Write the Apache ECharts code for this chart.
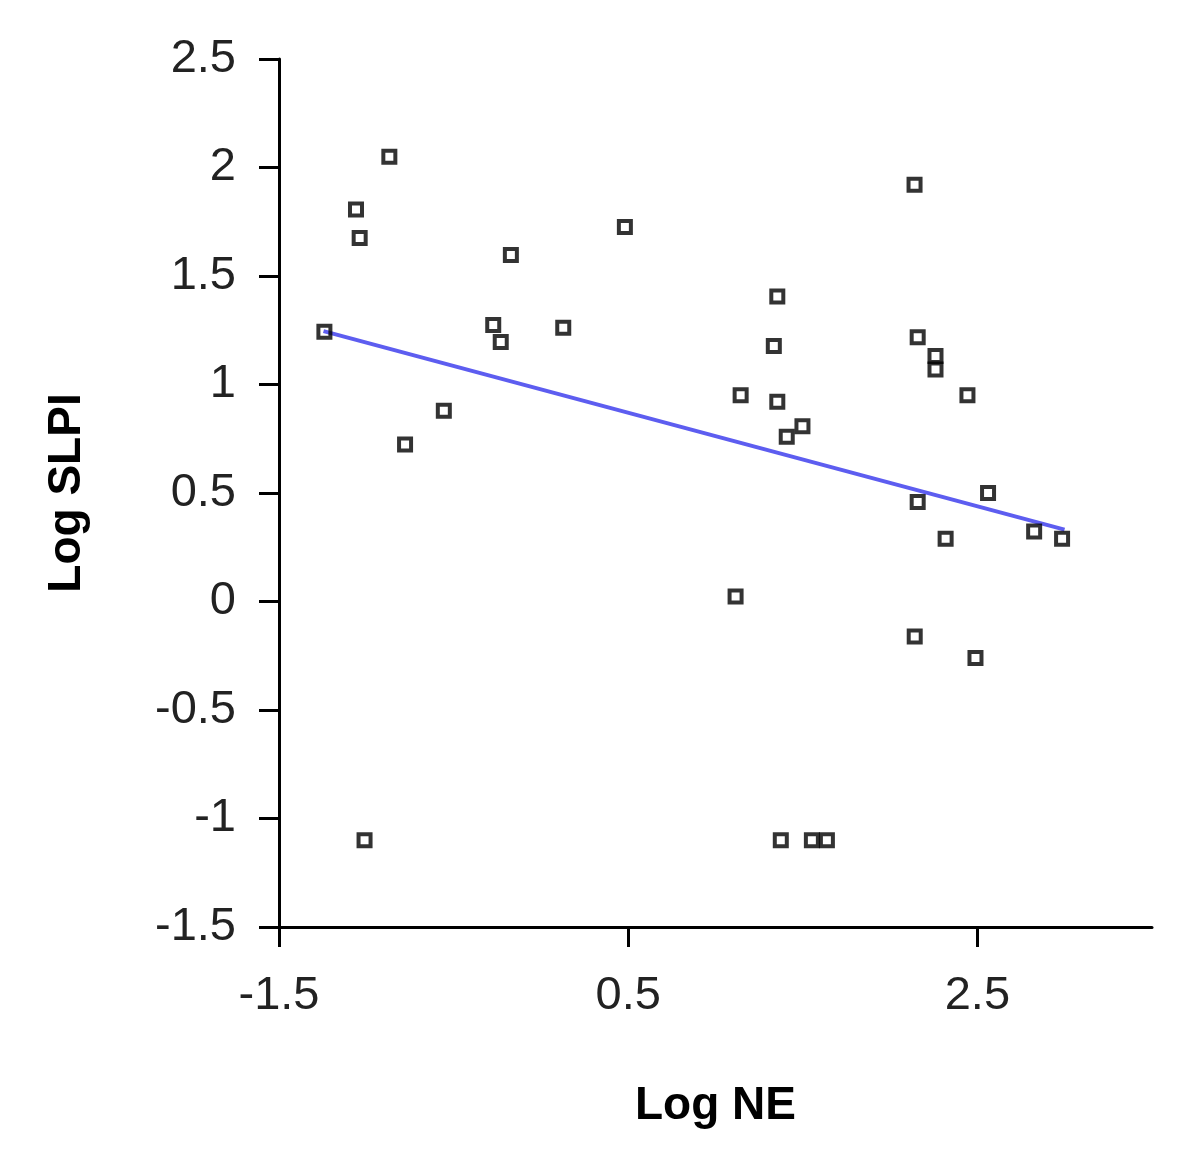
<!DOCTYPE html>
<html>
<head>
<meta charset="utf-8">
<script src="https://cdn.jsdelivr.net/npm/echarts@6/dist/echarts.min.js"></script>
<style>
html,body{margin:0;padding:0;background:#fff;}
#chart{width:1200px;height:1175px;}
</style>
</head>
<body>
<div id="chart"></div>
<script>
// Data
var logNE = [-1.24, -1.059, -1.038, -0.868, -0.778, -0.556, -0.273, -0.230, -0.172, 0.128,
             -1.010, 0.481, 2.140, 1.354, 1.334, 1.144, 1.354, 1.408, 1.498, 2.158,
             2.260, 2.260, 2.443, 2.561, 2.158, 2.318, 2.825, 2.985, 1.115, 2.141,
             2.489, 1.374, 1.552, 1.638];
var logSLPI = [1.243, 1.806, 1.675, 2.049, 0.723, 0.879, 1.274, 1.196, 1.597, 1.262,
               -1.100, 1.726, 1.920, 1.405, 1.177, 0.951, 0.920, 0.759, 0.808, 1.218,
               1.131, 1.069, 0.951, 0.500, 0.459, 0.289, 0.323, 0.289, 0.023, -0.161,
               -0.26, -1.100, -1.100, -1.100];
// Fitted line end points
var fitX = [-1.245, 2.999];
var fitY = [1.246, 0.331];
var xTicks = [-1.5, 0.5, 2.5];
var yTicks = [-1.5, -1, -0.5, 0, 0.5, 1, 1.5, 2, 2.5];

var points = logNE.map(function (x, i) { return [x, logSLPI[i]]; });
var fitLine = fitX.map(function (x, i) { return [x, fitY[i]]; });

var FONT = 'Liberation Sans, Arial, sans-serif';
var chart = echarts.init(document.getElementById('chart'));
chart.setOption({
  animation: false,
  backgroundColor: '#fff',
  grid: { left: 279, right: 48, top: 59, bottom: 248, containLabel: false },
  xAxis: {
    type: 'value', min: -1.5, max: 3.5,
    name: 'Log NE', nameLocation: 'middle', nameGap: 156,
    nameTextStyle: { fontFamily: FONT, fontSize: 46, fontWeight: 'bold', color: '#000' },
    axisLine: { show: true, onZero: false, lineStyle: { color: '#000', width: 3 } },
    axisTick: { show: true, length: 20, lineStyle: { color: '#000', width: 3 }, customValues: xTicks },
    axisLabel: { fontFamily: FONT, fontSize: 47, color: '#222', margin: 46, customValues: xTicks },
    splitLine: { show: false }
  },
  yAxis: {
    type: 'value', min: -1.5, max: 2.5, interval: 0.5,
    name: 'Log SLPI', nameLocation: 'middle', nameGap: 189, nameRotate: 90,
    nameTextStyle: { fontFamily: FONT, fontSize: 46, fontWeight: 'bold', color: '#000' },
    axisLine: { show: true, onZero: false, lineStyle: { color: '#000', width: 3 } },
    axisTick: { show: true, length: 20, lineStyle: { color: '#000', width: 3 } },
    axisLabel: { fontFamily: FONT, fontSize: 47, color: '#222', margin: 43,
      formatter: function (v) { return yTicks.indexOf(v) >= 0 ? String(v) : ''; } },
    splitLine: { show: false }
  },
  series: [
    {
      type: 'line', data: fitLine, symbol: 'none', silent: true,
      lineStyle: { color: '#5d5df0', width: 4 }, z: 2
    },
    {
      type: 'scatter', data: points, symbol: 'rect', symbolSize: 12,
      itemStyle: { color: 'rgba(255,255,255,0)', borderColor: '#000', borderWidth: 4 }, z: 3
    }
  ]
});
</script>
</body>
</html>
